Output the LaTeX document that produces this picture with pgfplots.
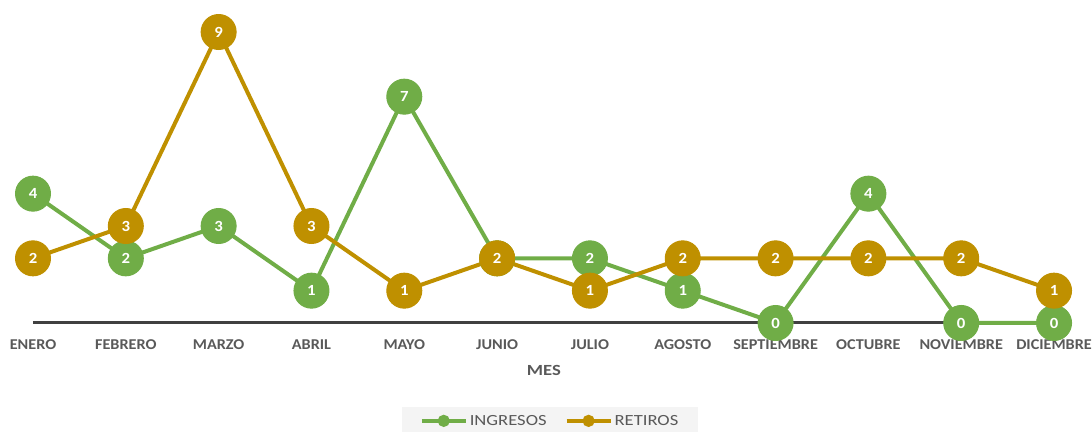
\documentclass[border=0pt]{standalone}
\usepackage{pgfplots}
\pgfplotsset{compat=1.18}
\usepackage{fontspec}
\setmainfont{Carlito}[FakeStretch=1.08]
\newfontfamily\wide{Carlito}[FakeStretch=1.2]
\definecolor{ing}{HTML}{70AD47}
\definecolor{ret}{HTML}{BF9000}
\definecolor{txt}{HTML}{595959}
\definecolor{axl}{HTML}{404040}
\definecolor{legbg}{HTML}{F4F4F4}
\begin{document}
\begin{tikzpicture}
\begin{axis}[
  scale only axis, width=1092pt, height=323pt,
  xmin=-0.3555, xmax=11.409, ymin=0, ymax=9.99,
  clip=false, axis line style={draw=none},
  /pgf/number format/assume math mode=true,
  ytick=\empty, xtick={0,...,11},
  xticklabels={ENERO,FEBRERO,MARZO,ABRIL,MAYO,JUNIO,JULIO,AGOSTO,SEPTIEMBRE,OCTUBRE,NOVIEMBRE,DICIEMBRE},
  major tick length=0pt,
  xticklabel style={font=\bfseries\fontsize{15}{15}\selectfont, text=txt, anchor=center, yshift=-22pt},
  xlabel={MES},
  xlabel style={font=\wide\bfseries\fontsize{15.5}{16}\selectfont, text=txt, at={(axis description cs:0.498,-0.1455)}, anchor=center},
  legend style={at={(0.5037,-0.303)}, anchor=center, legend columns=2, fill=legbg, draw=none,
    font=\wide\fontsize{15.5}{16}\selectfont, text=txt, inner xsep=18pt, inner ysep=6pt,
    /tikz/every even column/.append style={column sep=16pt}},
  legend image code/.code={\draw[line width=4pt] (0pt,0pt) -- (44pt,0pt); \fill (22pt,0pt) circle (4pt);},
  nodes near coords,
  every node near coord/.append style={anchor=center, text=white, font=\bfseries\fontsize{15.5}{16}\selectfont},
]
\draw[axl, line width=3pt] (axis cs:0,0) -- (axis cs:11,0);
\addplot[ing, line width=4pt, mark=*, mark size=17.5pt, mark options={solid, line width=1pt}] coordinates {
(0,4) (1,2) (2,3) (3,1) (4,7) (5,2) (6,2) (7,1) (8,0) (9,4) (10,0) (11,0)};
\addlegendentry{INGRESOS}
\addplot[ret, line width=4pt, mark=*, mark size=17.5pt, mark options={solid, line width=1pt}] coordinates {
(0,2) (1,3) (2,9) (3,3) (4,1) (5,2) (6,1) (7,2) (8,2) (9,2) (10,2) (11,1)};
\addlegendentry{RETIROS}
\coordinate (bl) at (axis cs:-0.3555,-3.371);
\coordinate (tr) at (axis cs:11.409,9.99);
\end{axis}
\pgfresetboundingbox
\useasboundingbox (bl) rectangle (tr);
\end{tikzpicture}
\end{document}
